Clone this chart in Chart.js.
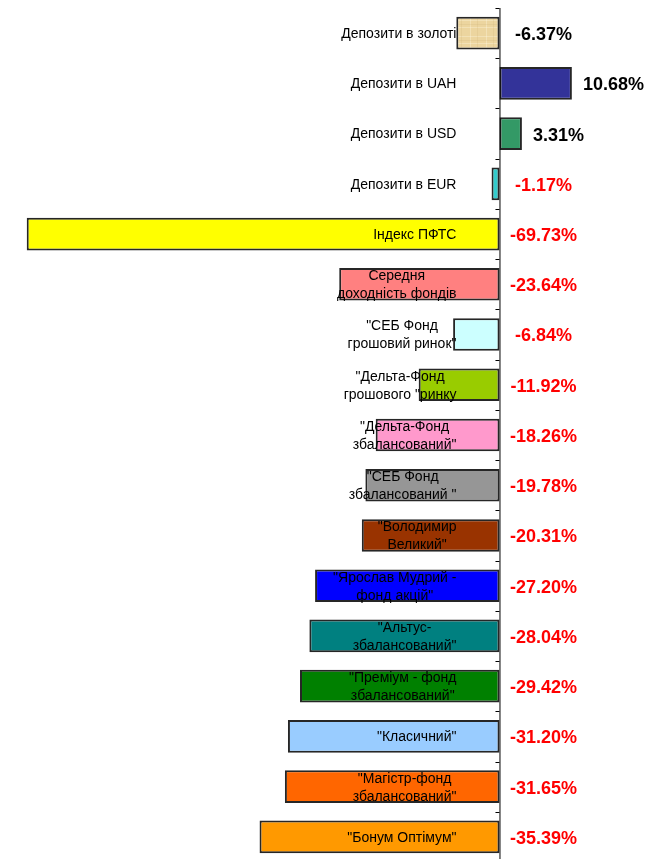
<!DOCTYPE html>
<html>
<head>
<meta charset="utf-8">
<script src="https://cdn.jsdelivr.net/npm/chart.js@4.4.0/dist/chart.umd.min.js"></script>
<style>
  html, body { margin: 0; padding: 0; background: #fff; overflow: hidden; }
  #wrap { position: relative; width: 666px; height: 862px; }
</style>
</head>
<body>
<div id="wrap"><canvas id="returnsChart"></canvas></div>
<script>
// ---- Data ----
const categories = [
  'Депозити в золоті',
  'Депозити в UAH',
  'Депозити в USD',
  'Депозити в EUR',
  'Індекс ПФТС',
  'Середня\nдоходність фондів',
  '"СЕБ Фонд\nгрошовий ринок"',
  '"Дельта-Фонд\nгрошового "ринку',
  '"Дельта-Фонд\nзбалансований"',
  '"СЕБ Фонд\nзбалансований "',
  '"Володимир\nВеликий"',
  '"Ярослав Мудрий -\nфонд акцій"',
  '"Альтус-\nзбалансований"',
  '"Преміум - фонд\nзбалансований"',
  '"Класичний"',
  '"Магістр-фонд\nзбалансований"',
  '"Бонум Оптімум"'
];
const returns = [-6.37, 10.68, 3.31, -1.17, -69.73, -23.64, -6.84, -11.92, -18.26,
                 -19.78, -20.31, -27.20, -28.04, -29.42, -31.20, -31.65, -35.39];
const barColors = ['gold', '#333399', '#339966', '#33cccc', '#ffff00', '#ff8080', '#ccffff',
                   '#99cc00', '#ff99cc', '#969696', '#993300', '#0000ff', '#008080',
                   '#008000', '#99ccff', '#ff6600', '#ff9900'];
const valueColors = ['#000', '#000', '#000', '#ff0000', '#ff0000', '#ff0000', '#ff0000',
                     '#ff0000', '#ff0000', '#ff0000', '#ff0000', '#ff0000', '#ff0000',
                     '#ff0000', '#ff0000', '#ff0000', '#ff0000'];

// ---- Gold texture (paper-like) ----
function goldPattern() {
  const c = document.createElement('canvas');
  c.width = 16; c.height = 16;
  const g = c.getContext('2d');
  g.fillStyle = '#ecd59f';
  g.fillRect(0, 0, 16, 16);
  g.fillStyle = 'rgba(255,248,225,0.35)';
  g.fillRect(0, 4, 16, 1);
  g.fillRect(0, 11, 16, 1);
  g.fillRect(6, 0, 1, 16);
  g.fillStyle = 'rgba(200,170,110,0.18)';
  g.fillRect(0, 8, 16, 1);
  g.fillRect(13, 0, 1, 16);
  return g.createPattern(c, 'repeat');
}

const FONT = "'Liberation Sans', Arial, sans-serif";

// ---- Labels, axis & values ----
const overlay = {
  id: 'overlay',
  afterDatasetsDraw(chart) {
    const { ctx, chartArea, scales: { x, y } } = chart;
    const zero = x.getPixelForValue(0);
    const meta = chart.getDatasetMeta(0);
    ctx.save();

    // vertical axis at zero with ticks on the left
    ctx.strokeStyle = '#000';
    ctx.lineWidth = 1;
    ctx.beginPath();
    ctx.moveTo(zero + 0.5, chartArea.top);
    ctx.lineTo(zero + 0.5, chartArea.bottom);
    const step = (chartArea.bottom - chartArea.top) / categories.length;
    for (let i = 0; i <= categories.length; i++) {
      const ty = Math.round(chartArea.top + i * step) + 0.5;
      ctx.moveTo(zero - 4, ty);
      ctx.lineTo(zero, ty);
    }
    ctx.stroke();

    // category names, right-aligned block, lines centred
    ctx.font = '14px ' + FONT;
    ctx.fillStyle = '#000';
    ctx.textBaseline = 'middle';
    ctx.textAlign = 'center';
    categories.forEach((label, i) => {
      const lines = label.split('\n');
      const w = Math.max(...lines.map(l => ctx.measureText(l).width));
      const cx = zero - 43 - w / 2;
      const cy = y.getPixelForValue(i);
      lines.forEach((l, k) => {
        ctx.fillText(l, cx, cy + (k - (lines.length - 1) / 2) * 18 + 1);
      });
    });

    // value labels
    ctx.font = 'bold 18px ' + FONT;
    returns.forEach((v, i) => {
      const bar = meta.data[i];
      const txt = v.toFixed(2) + '%';
      ctx.fillStyle = valueColors[i];
      if (v >= 0) {
        ctx.textAlign = 'left';
        ctx.fillText(txt, bar.x + 11, bar.y + 2);
      } else {
        ctx.textAlign = 'center';
        ctx.fillText(txt, zero + 44, bar.y + 2);
      }
    });
    ctx.restore();
  }
};

const canvas = document.getElementById('returnsChart');
const pat = goldPattern();

new Chart(canvas, {
  type: 'bar',
  data: {
    labels: categories,
    datasets: [{
      data: returns,
      backgroundColor: barColors.map(c => c === 'gold' ? pat : c),
      borderColor: '#262626',
      borderWidth: 2,
      borderSkipped: false,
      barPercentage: 0.65,
      categoryPercentage: 1
    }]
  },
  options: {
    indexAxis: 'y',
    responsive: true,
    maintainAspectRatio: false,
    animation: false,
    layout: { padding: { top: 8, left: 0, right: 0, bottom: 0 } },
    plugins: { legend: { display: false }, tooltip: { enabled: false } },
    scales: {
      x: { display: false, min: -73.67, max: 24.56 },
      y: { display: false }
    }
  },
  plugins: [overlay]
});
</script>
</body>
</html>
